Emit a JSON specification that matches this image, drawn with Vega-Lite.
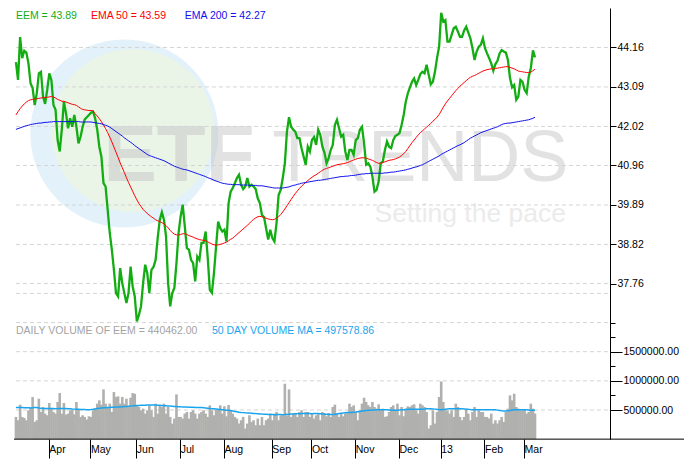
{
"$schema": "https://vega.github.io/schema/vega-lite/v6.json",
"width": 670,
"height": 431,
"padding": {"left": 11, "top": 8, "right": 5, "bottom": 5},
"background": "#ffffff",
"config": {"view": {"stroke": null}, "font": "Liberation Sans", "axis": {"labelFont": "Liberation Sans", "labelFontSize": 10.5, "labelColor": "#000000", "domainColor": "#000000", "tickColor": "#000000", "title": null}},
"data": {"name": "eem"},
"datasets": {"eem": [
{"d":"2012-03-09","c":43.76,"a":42.33,"b":41.94,"v":381100,"m":541000},
{"d":"2012-03-12","c":43.28,"a":42.42,"b":41.96,"v":324200,"m":541000},
{"d":"2012-03-13","c":44.44,"a":42.50,"b":41.98,"v":591600,"m":542000},
{"d":"2012-03-14","c":43.87,"a":42.57,"b":42.00,"v":381100,"m":541000},
{"d":"2012-03-15","c":44.07,"a":42.63,"b":42.02,"v":364000,"m":540000},
{"d":"2012-03-16","c":44.02,"a":42.68,"b":42.04,"v":324200,"m":540000},
{"d":"2012-03-19","c":43.73,"a":42.72,"b":42.05,"v":494900,"m":538000},
{"d":"2012-03-20","c":43.19,"a":42.74,"b":42.07,"v":551700,"m":536000},
{"d":"2012-03-21","c":43.06,"a":42.75,"b":42.08,"v":722400,"m":538000},
{"d":"2012-03-22","c":42.60,"a":42.76,"b":42.09,"v":295800,"m":541000},
{"d":"2012-03-23","c":42.92,"a":42.77,"b":42.10,"v":324200,"m":541000},
{"d":"2012-03-26","c":43.46,"a":42.78,"b":42.11,"v":693900,"m":535000},
{"d":"2012-03-27","c":43.50,"a":42.79,"b":42.11,"v":466400,"m":528000},
{"d":"2012-03-28","c":42.83,"a":42.80,"b":42.12,"v":551700,"m":524000},
{"d":"2012-03-29","c":42.63,"a":42.80,"b":42.13,"v":438000,"m":524000},
{"d":"2012-03-30","c":43.01,"a":42.81,"b":42.13,"v":409500,"m":524000},
{"d":"2012-04-02","c":43.46,"a":42.82,"b":42.14,"v":620000,"m":525000},
{"d":"2012-04-03","c":43.28,"a":42.83,"b":42.14,"v":523300,"m":524000},
{"d":"2012-04-04","c":42.60,"a":42.82,"b":42.15,"v":466400,"m":524000},
{"d":"2012-04-05","c":42.47,"a":42.79,"b":42.15,"v":438000,"m":523000},
{"d":"2012-04-09","c":41.65,"a":42.75,"b":42.15,"v":637100,"m":524000},
{"d":"2012-04-10","c":41.34,"a":42.73,"b":42.15,"v":790600,"m":526000},
{"d":"2012-04-11","c":41.93,"a":42.70,"b":42.15,"v":438000,"m":525000},
{"d":"2012-04-12","c":42.69,"a":42.70,"b":42.15,"v":620000,"m":524000},
{"d":"2012-04-13","c":42.38,"a":42.68,"b":42.15,"v":420900,"m":524000},
{"d":"2012-04-16","c":41.97,"a":42.66,"b":42.15,"v":438000,"m":523000},
{"d":"2012-04-17","c":42.24,"a":42.64,"b":42.15,"v":494900,"m":522000},
{"d":"2012-04-18","c":42.01,"a":42.62,"b":42.15,"v":506200,"m":518000},
{"d":"2012-04-19","c":42.33,"a":42.61,"b":42.15,"v":426600,"m":515000},
{"d":"2012-04-20","c":42.01,"a":42.59,"b":42.15,"v":637100,"m":512000},
{"d":"2012-04-23","c":41.56,"a":42.55,"b":42.15,"v":506200,"m":511000},
{"d":"2012-04-24","c":41.74,"a":42.51,"b":42.14,"v":381100,"m":510000},
{"d":"2012-04-25","c":42.01,"a":42.48,"b":42.14,"v":409500,"m":508000},
{"d":"2012-04-26","c":42.21,"a":42.47,"b":42.14,"v":381100,"m":507000},
{"d":"2012-04-27","c":42.27,"a":42.46,"b":42.14,"v":335600,"m":506000},
{"d":"2012-04-30","c":42.33,"a":42.45,"b":42.14,"v":392500,"m":506000},
{"d":"2012-05-01","c":42.39,"a":42.45,"b":42.14,"v":381100,"m":508000},
{"d":"2012-05-02","c":42.42,"a":42.44,"b":42.13,"v":494900,"m":512000},
{"d":"2012-05-03","c":42.24,"a":42.36,"b":42.12,"v":523300,"m":518000},
{"d":"2012-05-04","c":41.93,"a":42.30,"b":42.11,"v":608600,"m":524000},
{"d":"2012-05-07","c":41.47,"a":42.23,"b":42.10,"v":665500,"m":530000},
{"d":"2012-05-08","c":41.20,"a":42.15,"b":42.09,"v":591600,"m":535000},
{"d":"2012-05-09","c":40.48,"a":42.06,"b":42.07,"v":853200,"m":538000},
{"d":"2012-05-10","c":40.39,"a":41.96,"b":42.05,"v":608600,"m":540000},
{"d":"2012-05-11","c":39.76,"a":41.85,"b":42.03,"v":551700,"m":542000},
{"d":"2012-05-14","c":39.13,"a":41.73,"b":42.00,"v":608600,"m":544000},
{"d":"2012-05-15","c":38.68,"a":41.60,"b":41.96,"v":466400,"m":546000},
{"d":"2012-05-16","c":38.13,"a":41.46,"b":41.92,"v":807700,"m":548000},
{"d":"2012-05-17","c":37.50,"a":41.32,"b":41.88,"v":722400,"m":550000},
{"d":"2012-05-18","c":37.41,"a":41.18,"b":41.84,"v":733800,"m":552000},
{"d":"2012-05-21","c":38.18,"a":41.03,"b":41.80,"v":608600,"m":553000},
{"d":"2012-05-22","c":37.77,"a":40.90,"b":41.76,"v":722400,"m":556000},
{"d":"2012-05-23","c":37.50,"a":40.77,"b":41.71,"v":608600,"m":559000},
{"d":"2012-05-24","c":37.23,"a":40.63,"b":41.67,"v":693900,"m":562000},
{"d":"2012-05-25","c":37.50,"a":40.50,"b":41.63,"v":551700,"m":565000},
{"d":"2012-05-29","c":38.22,"a":40.38,"b":41.59,"v":711000,"m":568000},
{"d":"2012-05-30","c":37.68,"a":40.26,"b":41.55,"v":790600,"m":571000},
{"d":"2012-05-31","c":37.41,"a":40.14,"b":41.50,"v":779300,"m":575000},
{"d":"2012-06-01","c":36.73,"a":40.03,"b":41.46,"v":580200,"m":577000},
{"d":"2012-06-04","c":36.91,"a":39.93,"b":41.42,"v":551700,"m":578000},
{"d":"2012-06-05","c":37.14,"a":39.85,"b":41.38,"v":494900,"m":580000},
{"d":"2012-06-06","c":37.77,"a":39.77,"b":41.34,"v":523300,"m":581000},
{"d":"2012-06-07","c":38.27,"a":39.71,"b":41.30,"v":438000,"m":582000},
{"d":"2012-06-08","c":38.04,"a":39.66,"b":41.26,"v":494900,"m":584000},
{"d":"2012-06-11","c":37.50,"a":39.61,"b":41.23,"v":580200,"m":585000},
{"d":"2012-06-12","c":38.13,"a":39.57,"b":41.21,"v":494900,"m":586000},
{"d":"2012-06-13","c":38.21,"a":39.53,"b":41.19,"v":381100,"m":586000},
{"d":"2012-06-14","c":38.40,"a":39.49,"b":41.17,"v":608600,"m":585000},
{"d":"2012-06-15","c":38.99,"a":39.46,"b":41.15,"v":438000,"m":583000},
{"d":"2012-06-18","c":39.49,"a":39.44,"b":41.13,"v":580200,"m":581000},
{"d":"2012-06-19","c":39.69,"a":39.41,"b":41.11,"v":551700,"m":578000},
{"d":"2012-06-20","c":39.49,"a":39.38,"b":41.09,"v":608600,"m":575000},
{"d":"2012-06-21","c":39.04,"a":39.33,"b":41.06,"v":438000,"m":572000},
{"d":"2012-06-22","c":37.77,"a":39.27,"b":41.03,"v":551700,"m":569000},
{"d":"2012-06-25","c":37.14,"a":39.20,"b":41.00,"v":381100,"m":567000},
{"d":"2012-06-26","c":37.50,"a":39.14,"b":40.97,"v":267300,"m":565000},
{"d":"2012-06-27","c":37.64,"a":39.10,"b":40.94,"v":352700,"m":562000},
{"d":"2012-06-28","c":38.31,"a":39.08,"b":40.92,"v":767900,"m":560000},
{"d":"2012-06-29","c":39.13,"a":39.08,"b":40.90,"v":381100,"m":557000},
{"d":"2012-07-02","c":39.58,"a":39.09,"b":40.88,"v":381100,"m":554000},
{"d":"2012-07-03","c":39.90,"a":39.11,"b":40.86,"v":352700,"m":552000},
{"d":"2012-07-05","c":39.31,"a":39.11,"b":40.85,"v":438000,"m":551000},
{"d":"2012-07-06","c":38.72,"a":39.09,"b":40.84,"v":466400,"m":550000},
{"d":"2012-07-09","c":38.68,"a":39.06,"b":40.82,"v":352700,"m":548000},
{"d":"2012-07-10","c":38.40,"a":39.04,"b":40.80,"v":466400,"m":547000},
{"d":"2012-07-11","c":38.31,"a":39.02,"b":40.78,"v":494900,"m":546000},
{"d":"2012-07-12","c":37.82,"a":38.99,"b":40.76,"v":438000,"m":545000},
{"d":"2012-07-13","c":38.49,"a":38.97,"b":40.74,"v":352700,"m":543000},
{"d":"2012-07-16","c":38.40,"a":38.95,"b":40.72,"v":438000,"m":542000},
{"d":"2012-07-17","c":38.86,"a":38.94,"b":40.70,"v":466400,"m":541000},
{"d":"2012-07-18","c":38.86,"a":38.93,"b":40.68,"v":494900,"m":538000},
{"d":"2012-07-19","c":39.17,"a":38.92,"b":40.66,"v":438000,"m":534000},
{"d":"2012-07-20","c":38.46,"a":38.89,"b":40.63,"v":381100,"m":530000},
{"d":"2012-07-23","c":37.59,"a":38.86,"b":40.61,"v":580200,"m":526000},
{"d":"2012-07-24","c":37.51,"a":38.83,"b":40.59,"v":494900,"m":522000},
{"d":"2012-07-25","c":38.05,"a":38.81,"b":40.56,"v":409500,"m":520000},
{"d":"2012-07-26","c":38.76,"a":38.80,"b":40.54,"v":506200,"m":518000},
{"d":"2012-07-27","c":39.44,"a":38.81,"b":40.52,"v":506200,"m":514000},
{"d":"2012-07-30","c":39.26,"a":38.82,"b":40.50,"v":580200,"m":510000},
{"d":"2012-07-31","c":39.17,"a":38.84,"b":40.48,"v":438000,"m":505000},
{"d":"2012-08-01","c":39.22,"a":38.86,"b":40.47,"v":563100,"m":500000},
{"d":"2012-08-02","c":38.90,"a":38.88,"b":40.46,"v":392500,"m":497000},
{"d":"2012-08-03","c":39.94,"a":38.92,"b":40.45,"v":585900,"m":495000},
{"d":"2012-08-06","c":40.25,"a":38.96,"b":40.45,"v":494900,"m":490000},
{"d":"2012-08-07","c":40.35,"a":38.99,"b":40.44,"v":438000,"m":483000},
{"d":"2012-08-08","c":40.48,"a":39.04,"b":40.44,"v":381100,"m":476000},
{"d":"2012-08-09","c":40.62,"a":39.09,"b":40.44,"v":352700,"m":469000},
{"d":"2012-08-10","c":40.71,"a":39.14,"b":40.44,"v":267300,"m":462000},
{"d":"2012-08-13","c":40.44,"a":39.19,"b":40.43,"v":324200,"m":457000},
{"d":"2012-08-14","c":40.32,"a":39.24,"b":40.43,"v":381100,"m":455000},
{"d":"2012-08-15","c":40.39,"a":39.29,"b":40.43,"v":182000,"m":452000},
{"d":"2012-08-16","c":40.62,"a":39.34,"b":40.43,"v":267300,"m":450000},
{"d":"2012-08-17","c":40.39,"a":39.39,"b":40.42,"v":409500,"m":447000},
{"d":"2012-08-20","c":40.44,"a":39.45,"b":40.42,"v":295800,"m":444000},
{"d":"2012-08-21","c":40.39,"a":39.50,"b":40.42,"v":324200,"m":441000},
{"d":"2012-08-22","c":40.32,"a":39.54,"b":40.42,"v":238900,"m":438000},
{"d":"2012-08-23","c":40.07,"a":39.57,"b":40.41,"v":352700,"m":436000},
{"d":"2012-08-24","c":39.94,"a":39.58,"b":40.41,"v":238900,"m":433000},
{"d":"2012-08-27","c":39.62,"a":39.57,"b":40.41,"v":381100,"m":430000},
{"d":"2012-08-28","c":39.56,"a":39.55,"b":40.40,"v":238900,"m":428000},
{"d":"2012-08-29","c":39.26,"a":39.53,"b":40.39,"v":324200,"m":425000},
{"d":"2012-08-30","c":38.95,"a":39.51,"b":40.38,"v":352700,"m":422000},
{"d":"2012-08-31","c":39.22,"a":39.50,"b":40.37,"v":438000,"m":421000},
{"d":"2012-09-04","c":38.99,"a":39.49,"b":40.36,"v":324200,"m":421000},
{"d":"2012-09-05","c":38.90,"a":39.50,"b":40.35,"v":438000,"m":420000},
{"d":"2012-09-06","c":39.40,"a":39.53,"b":40.35,"v":466400,"m":420000},
{"d":"2012-09-07","c":40.16,"a":39.57,"b":40.35,"v":324200,"m":421000},
{"d":"2012-09-10","c":40.30,"a":39.63,"b":40.35,"v":409500,"m":421000},
{"d":"2012-09-11","c":40.62,"a":39.70,"b":40.35,"v":409500,"m":420000},
{"d":"2012-09-12","c":41.02,"a":39.78,"b":40.36,"v":949900,"m":422000},
{"d":"2012-09-13","c":41.88,"a":39.87,"b":40.37,"v":409500,"m":425000},
{"d":"2012-09-14","c":42.27,"a":39.95,"b":40.38,"v":853200,"m":429000},
{"d":"2012-09-17","c":42.01,"a":40.04,"b":40.40,"v":381100,"m":431000},
{"d":"2012-09-18","c":41.93,"a":40.12,"b":40.42,"v":438000,"m":433000},
{"d":"2012-09-19","c":41.88,"a":40.20,"b":40.43,"v":449400,"m":435000},
{"d":"2012-09-20","c":41.70,"a":40.27,"b":40.45,"v":381100,"m":436000},
{"d":"2012-09-21","c":41.70,"a":40.34,"b":40.46,"v":466400,"m":437000},
{"d":"2012-09-24","c":41.43,"a":40.40,"b":40.48,"v":494900,"m":438000},
{"d":"2012-09-25","c":41.20,"a":40.45,"b":40.49,"v":381100,"m":438000},
{"d":"2012-09-26","c":40.98,"a":40.50,"b":40.50,"v":466400,"m":439000},
{"d":"2012-09-27","c":41.47,"a":40.55,"b":40.51,"v":466400,"m":438000},
{"d":"2012-09-28","c":41.34,"a":40.60,"b":40.52,"v":381100,"m":438000},
{"d":"2012-10-01","c":41.65,"a":40.64,"b":40.53,"v":438000,"m":437000},
{"d":"2012-10-02","c":41.73,"a":40.68,"b":40.54,"v":352700,"m":438000},
{"d":"2012-10-03","c":41.52,"a":40.71,"b":40.55,"v":409500,"m":439000},
{"d":"2012-10-04","c":41.93,"a":40.75,"b":40.56,"v":438000,"m":438000},
{"d":"2012-10-05","c":41.79,"a":40.79,"b":40.56,"v":324200,"m":437000},
{"d":"2012-10-08","c":41.47,"a":40.83,"b":40.57,"v":466400,"m":433000},
{"d":"2012-10-09","c":41.31,"a":40.86,"b":40.58,"v":449400,"m":429000},
{"d":"2012-10-10","c":41.02,"a":40.88,"b":40.59,"v":392500,"m":425000},
{"d":"2012-10-11","c":41.16,"a":40.90,"b":40.60,"v":449400,"m":422000},
{"d":"2012-10-12","c":41.38,"a":40.92,"b":40.61,"v":381100,"m":421000},
{"d":"2012-10-15","c":41.52,"a":40.94,"b":40.62,"v":551700,"m":421000},
{"d":"2012-10-16","c":42.06,"a":40.96,"b":40.63,"v":591600,"m":426000},
{"d":"2012-10-17","c":42.20,"a":40.98,"b":40.64,"v":438000,"m":433000},
{"d":"2012-10-18","c":41.97,"a":40.99,"b":40.65,"v":381100,"m":440000},
{"d":"2012-10-19","c":41.74,"a":41.00,"b":40.66,"v":438000,"m":446000},
{"d":"2012-10-22","c":41.79,"a":41.01,"b":40.66,"v":392500,"m":449000},
{"d":"2012-10-23","c":41.34,"a":41.02,"b":40.67,"v":438000,"m":452000},
{"d":"2012-10-24","c":41.11,"a":41.04,"b":40.67,"v":466400,"m":455000},
{"d":"2012-10-25","c":41.38,"a":41.06,"b":40.68,"v":608600,"m":456000},
{"d":"2012-10-26","c":41.38,"a":41.09,"b":40.69,"v":551700,"m":458000},
{"d":"2012-10-31","c":41.25,"a":41.11,"b":40.69,"v":580200,"m":462000},
{"d":"2012-11-01","c":41.65,"a":41.13,"b":40.70,"v":466400,"m":466000},
{"d":"2012-11-02","c":41.70,"a":41.15,"b":40.71,"v":324200,"m":471000},
{"d":"2012-11-05","c":41.93,"a":41.16,"b":40.72,"v":494900,"m":476000},
{"d":"2012-11-06","c":42.01,"a":41.17,"b":40.73,"v":608600,"m":481000},
{"d":"2012-11-07","c":41.56,"a":41.17,"b":40.73,"v":711000,"m":486000},
{"d":"2012-11-08","c":40.98,"a":41.16,"b":40.74,"v":637100,"m":490000},
{"d":"2012-11-09","c":41.02,"a":41.14,"b":40.74,"v":580200,"m":494000},
{"d":"2012-11-12","c":40.93,"a":41.12,"b":40.75,"v":551700,"m":497000},
{"d":"2012-11-13","c":40.66,"a":41.10,"b":40.75,"v":637100,"m":500000},
{"d":"2012-11-14","c":40.25,"a":41.07,"b":40.75,"v":551700,"m":502000},
{"d":"2012-11-15","c":40.30,"a":41.04,"b":40.75,"v":523300,"m":504000},
{"d":"2012-11-16","c":40.53,"a":41.02,"b":40.75,"v":597200,"m":505000},
{"d":"2012-11-19","c":41.02,"a":41.02,"b":40.75,"v":506200,"m":506000},
{"d":"2012-11-20","c":41.07,"a":41.04,"b":40.75,"v":523300,"m":506000},
{"d":"2012-11-21","c":41.38,"a":41.06,"b":40.76,"v":381100,"m":505000},
{"d":"2012-11-23","c":41.61,"a":41.08,"b":40.76,"v":392500,"m":503000},
{"d":"2012-11-26","c":41.47,"a":41.10,"b":40.77,"v":466400,"m":500000},
{"d":"2012-11-27","c":41.43,"a":41.11,"b":40.78,"v":551700,"m":497000},
{"d":"2012-11-28","c":41.65,"a":41.12,"b":40.78,"v":580200,"m":495000},
{"d":"2012-11-29","c":41.76,"a":41.14,"b":40.79,"v":494900,"m":495000},
{"d":"2012-11-30","c":41.79,"a":41.16,"b":40.80,"v":608600,"m":497000},
{"d":"2012-12-03","c":41.84,"a":41.19,"b":40.81,"v":409500,"m":500000},
{"d":"2012-12-04","c":42.06,"a":41.23,"b":40.82,"v":551700,"m":503000},
{"d":"2012-12-05","c":42.33,"a":41.28,"b":40.83,"v":392500,"m":506000},
{"d":"2012-12-06","c":42.69,"a":41.34,"b":40.84,"v":523300,"m":509000},
{"d":"2012-12-07","c":42.92,"a":41.42,"b":40.86,"v":563100,"m":512000},
{"d":"2012-12-10","c":43.08,"a":41.50,"b":40.87,"v":551700,"m":512000},
{"d":"2012-12-11","c":43.23,"a":41.58,"b":40.89,"v":580200,"m":512000},
{"d":"2012-12-12","c":43.32,"a":41.65,"b":40.91,"v":597200,"m":512000},
{"d":"2012-12-13","c":43.14,"a":41.72,"b":40.92,"v":494900,"m":512000},
{"d":"2012-12-14","c":43.28,"a":41.79,"b":40.94,"v":438000,"m":512000},
{"d":"2012-12-17","c":43.44,"a":41.85,"b":40.96,"v":608600,"m":512000},
{"d":"2012-12-18","c":43.50,"a":41.90,"b":40.98,"v":580200,"m":513000},
{"d":"2012-12-19","c":43.46,"a":41.95,"b":41.01,"v":551700,"m":516000},
{"d":"2012-12-20","c":43.69,"a":42.00,"b":41.04,"v":466400,"m":520000},
{"d":"2012-12-21","c":43.42,"a":42.05,"b":41.07,"v":182000,"m":523000},
{"d":"2012-12-24","c":43.16,"a":42.10,"b":41.10,"v":238900,"m":522000},
{"d":"2012-12-26","c":43.23,"a":42.16,"b":41.13,"v":494900,"m":519000},
{"d":"2012-12-27","c":43.50,"a":42.21,"b":41.16,"v":267300,"m":515000},
{"d":"2012-12-28","c":43.87,"a":42.27,"b":41.19,"v":466400,"m":511000},
{"d":"2012-12-31","c":44.18,"a":42.34,"b":41.22,"v":722400,"m":508000},
{"d":"2013-01-02","c":45.10,"a":42.44,"b":41.26,"v":989700,"m":506000},
{"d":"2013-01-03","c":44.86,"a":42.54,"b":41.29,"v":637100,"m":510000},
{"d":"2013-01-04","c":44.90,"a":42.63,"b":41.32,"v":494900,"m":514000},
{"d":"2013-01-07","c":44.32,"a":42.71,"b":41.35,"v":494900,"m":518000},
{"d":"2013-01-08","c":44.32,"a":42.78,"b":41.38,"v":438000,"m":521000},
{"d":"2013-01-09","c":44.50,"a":42.85,"b":41.41,"v":494900,"m":523000},
{"d":"2013-01-10","c":44.68,"a":42.92,"b":41.44,"v":381100,"m":523000},
{"d":"2013-01-11","c":44.72,"a":42.99,"b":41.47,"v":608600,"m":523000},
{"d":"2013-01-14","c":44.59,"a":43.05,"b":41.50,"v":551700,"m":523000},
{"d":"2013-01-15","c":44.45,"a":43.11,"b":41.52,"v":381100,"m":523000},
{"d":"2013-01-16","c":44.45,"a":43.16,"b":41.55,"v":324200,"m":522000},
{"d":"2013-01-17","c":44.62,"a":43.21,"b":41.58,"v":381100,"m":519000},
{"d":"2013-01-18","c":44.72,"a":43.26,"b":41.62,"v":523300,"m":515000},
{"d":"2013-01-22","c":44.56,"a":43.31,"b":41.66,"v":438000,"m":511000},
{"d":"2013-01-23","c":44.41,"a":43.35,"b":41.70,"v":324200,"m":508000},
{"d":"2013-01-24","c":44.14,"a":43.38,"b":41.73,"v":466400,"m":506000},
{"d":"2013-01-25","c":43.82,"a":43.40,"b":41.76,"v":551700,"m":506000},
{"d":"2013-01-28","c":44.05,"a":43.43,"b":41.79,"v":381100,"m":506000},
{"d":"2013-01-29","c":44.18,"a":43.46,"b":41.82,"v":494900,"m":506000},
{"d":"2013-01-30","c":44.23,"a":43.49,"b":41.85,"v":466400,"m":506000},
{"d":"2013-01-31","c":44.41,"a":43.52,"b":41.87,"v":466400,"m":506000},
{"d":"2013-02-01","c":44.14,"a":43.54,"b":41.89,"v":381100,"m":506000},
{"d":"2013-02-04","c":44.00,"a":43.56,"b":41.91,"v":381100,"m":506000},
{"d":"2013-02-05","c":43.87,"a":43.57,"b":41.93,"v":352700,"m":506000},
{"d":"2013-02-06","c":43.73,"a":43.58,"b":41.95,"v":438000,"m":506000},
{"d":"2013-02-07","c":43.53,"a":43.58,"b":41.97,"v":267300,"m":506000},
{"d":"2013-02-08","c":43.71,"a":43.59,"b":41.99,"v":324200,"m":505000},
{"d":"2013-02-11","c":43.80,"a":43.60,"b":42.01,"v":267300,"m":498000},
{"d":"2013-02-12","c":44.00,"a":43.61,"b":42.04,"v":324200,"m":490000},
{"d":"2013-02-13","c":44.09,"a":43.62,"b":42.07,"v":381100,"m":485000},
{"d":"2013-02-14","c":44.05,"a":43.63,"b":42.09,"v":295800,"m":484000},
{"d":"2013-02-15","c":44.02,"a":43.64,"b":42.10,"v":466400,"m":484000},
{"d":"2013-02-19","c":43.82,"a":43.64,"b":42.11,"v":523300,"m":485000},
{"d":"2013-02-20","c":43.33,"a":43.62,"b":42.11,"v":750800,"m":490000},
{"d":"2013-02-21","c":43.08,"a":43.60,"b":42.12,"v":665500,"m":500000},
{"d":"2013-02-22","c":43.14,"a":43.58,"b":42.13,"v":779300,"m":503000},
{"d":"2013-02-25","c":42.74,"a":43.55,"b":42.14,"v":551700,"m":505000},
{"d":"2013-02-26","c":42.83,"a":43.52,"b":42.15,"v":523300,"m":506000},
{"d":"2013-02-27","c":43.28,"a":43.51,"b":42.16,"v":494900,"m":506000},
{"d":"2013-02-28","c":43.23,"a":43.50,"b":42.17,"v":494900,"m":506000},
{"d":"2013-03-01","c":43.01,"a":43.49,"b":42.18,"v":506200,"m":505000},
{"d":"2013-03-04","c":42.92,"a":43.48,"b":42.19,"v":438000,"m":503000},
{"d":"2013-03-05","c":43.37,"a":43.48,"b":42.20,"v":466400,"m":500000},
{"d":"2013-03-06","c":43.60,"a":43.49,"b":42.22,"v":608600,"m":497000},
{"d":"2013-03-07","c":44.08,"a":43.53,"b":42.24,"v":523300,"m":496000},
{"d":"2013-03-08","c":43.89,"a":43.57,"b":42.27,"v":440462,"m":497578.86}
]},
"layer": [
{
"layer": [
{"data": {"values": [{}]}, "mark": {"type": "rule", "color": "#d4d4d4", "strokeDash": [4, 3]},
 "encoding": {"x": {"datum": "2012-03-09", "type": "ordinal"}, "x2": {"datum": "2013-04-30"}, "y": {"datum": 500000, "type": "quantitative"}}},
{"data": {"values": [{}]}, "mark": {"type": "rule", "color": "#d4d4d4", "strokeDash": [4, 3]},
 "encoding": {"x": {"datum": "2012-03-09", "type": "ordinal"}, "x2": {"datum": "2013-04-30"}, "y": {"datum": 1000000, "type": "quantitative"}}},
{"data": {"values": [{}]}, "mark": {"type": "rule", "color": "#d4d4d4", "strokeDash": [4, 3]},
 "encoding": {"x": {"datum": "2012-03-09", "type": "ordinal"}, "x2": {"datum": "2013-04-30"}, "y": {"datum": 1500000, "type": "quantitative"}}},
{"data": {"values": [{}]}, "mark": {"type": "rule", "color": "#d4d4d4", "strokeDash": [4, 3]},
 "encoding": {"x": {"datum": "2012-03-09", "type": "ordinal"}, "x2": {"datum": "2013-04-30"}, "y": {"datum": 2000000, "type": "quantitative"}}},
{"data": {"values": [{}]}, "mark": {"type": "rule", "color": "#d4d4d4", "strokeDash": [4, 3]},
 "encoding": {"x": {"datum": "2012-03-09", "type": "ordinal"}, "x2": {"datum": "2013-04-30"}, "y": {"datum": 2500000, "type": "quantitative"}}},
{"mark": {"type": "bar", "color": "#b0b1ae", "width": {"band": 1.25}},
 "encoding": {
  "x": {"field": "d", "type": "ordinal",
   "scale": {"type": "band", "domain": {"unionWith": ["2013-03-11","2013-03-12","2013-03-13","2013-03-14","2013-03-15","2013-03-18","2013-03-19","2013-03-20","2013-03-21","2013-03-22","2013-03-25","2013-03-26","2013-03-27","2013-03-28","2013-04-01","2013-04-02","2013-04-03","2013-04-04","2013-04-05","2013-04-08","2013-04-09","2013-04-10","2013-04-11","2013-04-12","2013-04-15","2013-04-16","2013-04-17","2013-04-18","2013-04-19","2013-04-22","2013-04-23","2013-04-24","2013-04-25","2013-04-26","2013-04-29","2013-04-30"]}, "range": [0, 598], "paddingInner": 0, "paddingOuter": 0.431},
   "axis": {"title": null, "values": ["2012-04-02","2012-05-01","2012-06-01","2012-07-02","2012-08-01","2012-09-04","2012-10-01","2012-11-01","2012-12-03","2013-01-02","2013-02-01","2013-03-01"],
    "labelExpr": "datum.value == '2013-01-02' ? '13' : ['Jan','Feb','Mar','Apr','May','Jun','Jul','Aug','Sep','Oct','Nov','Dec'][toNumber(substring(datum.value, 5, 7)) - 1]",
    "tickSize": 19, "bandPosition": 0.5, "domain": false, "grid": false, "labelAngle": 0, "labelAlign": "left", "labelBaseline": "middle", "labelPadding": -9, "labelDx": 3, "labelOverlap": false, "tickColor": "#000000"}},
  "y": {"field": "v", "type": "quantitative", "title": null,
   "scale": {"domain": [0, 2500000], "range": [431.15, 285.4], "nice": false},
   "axis": {"orient": "right", "offset": -74, "title": null,
    "values": [500000, 750000, 1000000, 1250000, 1500000, 1750000, 2000000, 2500000],
    "labelExpr": "(datum.value == 500000 || datum.value == 1000000 || datum.value == 1500000) ? format(datum.value, '.2f') : ''",
    "tickSize": {"condition": {"test": "datum.value == 500000 || datum.value == 1000000 || datum.value == 1500000", "value": 12}, "value": 5},
    "tickOpacity": {"condition": {"test": "datum.value == 2500000", "value": 0}, "value": 1},
    "grid": false, "labelPadding": 1, "labelOverlap": false, "labelFlush": false, "domainColor": "#000000", "tickColor": "#000000"}}}},
{"mark": {"type": "line", "color": "#19a5ee", "strokeWidth": 1.5},
 "encoding": {"x": {"field": "d", "type": "ordinal"}, "y": {"field": "m", "type": "quantitative", "title": null}}},
{"data": {"values": [{}]}, "mark": {"type": "text", "text": "DAILY VOLUME OF EEM = 440462.00", "font": "Liberation Sans", "fontSize": 10.5, "align": "left", "baseline": "alphabetic", "color": "#a3a3a3"},
 "encoding": {"x": {"datum": "2012-03-09", "type": "ordinal"}, "y": {"datum": 1800000, "type": "quantitative"}}},
{"data": {"values": [{}]}, "mark": {"type": "text", "text": "50 DAY VOLUME MA = 497578.86", "font": "Liberation Sans", "fontSize": 10.5, "align": "left", "baseline": "alphabetic", "color": "#19a5ee"},
 "encoding": {"x": {"datum": "2012-07-24", "type": "ordinal"}, "y": {"datum": 1800000, "type": "quantitative"}}},
{"data": {"values": [{}]}, "mark": {"type": "rule", "color": "#000000", "strokeWidth": 1},
 "encoding": {"y": {"datum": 0, "type": "quantitative"}}}
]
},
{
"layer": [
{"data": {"values": [{}]}, "mark": {"type": "point", "shape": "circle", "filled": true, "color": "#c5e3f5", "opacity": 0.5, "size": 35344},
 "encoding": {"x": {"datum": "2012-05-23", "type": "ordinal"}, "y": {"datum": 41.83, "type": "quantitative"}}},
{"data": {"values": [{}]}, "mark": {"type": "point", "shape": "circle", "filled": true, "color": "#f2f9d6", "opacity": 0.5, "size": 26569},
 "encoding": {"x": {"datum": "2012-05-30", "type": "ordinal"}, "y": {"datum": 41.91, "type": "quantitative"}}},
{"data": {"values": [{}]}, "mark": {"type": "text", "text": "ETF", "font": "Liberation Sans", "fontWeight": "bold", "fontSize": 80, "align": "left", "baseline": "alphabetic", "color": "#c6c6c6", "opacity": 0.5},
 "encoding": {"x": {"datum": "2012-05-09", "type": "ordinal"}, "y": {"datum": 40.544, "type": "quantitative"}}},
{"data": {"values": [{}]}, "mark": {"type": "text", "text": "TRENDS", "font": "Liberation Sans", "fontSize": 72, "align": "left", "baseline": "alphabetic", "color": "#c6c6c6", "opacity": 0.5},
 "encoding": {"x": {"datum": "2012-09-04", "type": "ordinal"}, "y": {"datum": 40.544, "type": "quantitative"}}},
{"data": {"values": [{}]}, "mark": {"type": "text", "text": "Setting the pace", "font": "Liberation Sans", "fontSize": 26.5, "align": "left", "baseline": "alphabetic", "color": "#d8d8d8", "opacity": 0.5},
 "encoding": {"x": {"datum": "2012-11-14", "type": "ordinal"}, "y": {"datum": 39.434, "type": "quantitative"}}},
{"data": {"values": [{}]}, "mark": {"type": "rule", "color": "#d4d4d4", "strokeDash": [4, 3]},
 "encoding": {"x": {"datum": "2012-03-09", "type": "ordinal"}, "x2": {"datum": "2013-04-30"}, "y": {"datum": 37.76, "type": "quantitative"}}},
{"data": {"values": [{}]}, "mark": {"type": "rule", "color": "#d4d4d4", "strokeDash": [4, 3]},
 "encoding": {"x": {"datum": "2012-03-09", "type": "ordinal"}, "x2": {"datum": "2013-04-30"}, "y": {"datum": 38.82, "type": "quantitative"}}},
{"data": {"values": [{}]}, "mark": {"type": "rule", "color": "#d4d4d4", "strokeDash": [4, 3]},
 "encoding": {"x": {"datum": "2012-03-09", "type": "ordinal"}, "x2": {"datum": "2013-04-30"}, "y": {"datum": 39.89, "type": "quantitative"}}},
{"data": {"values": [{}]}, "mark": {"type": "rule", "color": "#d4d4d4", "strokeDash": [4, 3]},
 "encoding": {"x": {"datum": "2012-03-09", "type": "ordinal"}, "x2": {"datum": "2013-04-30"}, "y": {"datum": 40.96, "type": "quantitative"}}},
{"data": {"values": [{}]}, "mark": {"type": "rule", "color": "#d4d4d4", "strokeDash": [4, 3]},
 "encoding": {"x": {"datum": "2012-03-09", "type": "ordinal"}, "x2": {"datum": "2013-04-30"}, "y": {"datum": 42.02, "type": "quantitative"}}},
{"data": {"values": [{}]}, "mark": {"type": "rule", "color": "#d4d4d4", "strokeDash": [4, 3]},
 "encoding": {"x": {"datum": "2012-03-09", "type": "ordinal"}, "x2": {"datum": "2013-04-30"}, "y": {"datum": 43.09, "type": "quantitative"}}},
{"data": {"values": [{}]}, "mark": {"type": "rule", "color": "#d4d4d4", "strokeDash": [4, 3]},
 "encoding": {"x": {"datum": "2012-03-09", "type": "ordinal"}, "x2": {"datum": "2013-04-30"}, "y": {"datum": 44.16, "type": "quantitative"}}},
{"mark": {"type": "line", "color": "#13ad13", "strokeWidth": 2.3, "interpolate": "linear"},
 "encoding": {"x": {"field": "d", "type": "ordinal"},
  "y": {"field": "c", "type": "quantitative", "title": null,
   "scale": {"domain": [36.69, 45.23], "range": [315, 0], "nice": false, "zero": false},
   "axis": {"orient": "right", "offset": -74, "title": null,
    "values": [37.76, 38.29, 38.82, 39.355, 39.89, 40.425, 40.96, 41.49, 42.02, 42.555, 43.09, 43.625, 44.16],
    "labelExpr": "indexof([37.76,38.82,39.89,40.96,42.02,43.09,44.16], datum.value) >= 0 ? format(datum.value, '.2f') : ''",
    "tickSize": {"condition": {"test": "indexof([37.76,38.82,39.89,40.96,42.02,43.09,44.16], datum.value) >= 0", "value": 6}, "value": 4},
    "grid": false, "labelPadding": 1, "labelOverlap": false, "labelFlush": false, "domainColor": "#000000", "tickColor": "#000000"}}}},
{"mark": {"type": "line", "color": "#ff0000", "strokeWidth": 1},
 "encoding": {"x": {"field": "d", "type": "ordinal"}, "y": {"field": "a", "type": "quantitative", "title": null}}},
{"mark": {"type": "line", "color": "#1010ee", "strokeWidth": 1},
 "encoding": {"x": {"field": "d", "type": "ordinal"}, "y": {"field": "b", "type": "quantitative", "title": null}}},
{"data": {"values": [{}]}, "mark": {"type": "text", "text": "EEM = 43.89", "font": "Liberation Sans", "fontSize": 10.5, "align": "left", "baseline": "alphabetic", "color": "#13ad13"},
 "encoding": {"x": {"datum": "2012-03-09", "type": "ordinal"}, "y": {"datum": 44.932, "type": "quantitative"}}},
{"data": {"values": [{}]}, "mark": {"type": "text", "text": "EMA 50 = 43.59", "font": "Liberation Sans", "fontSize": 10.5, "align": "left", "baseline": "alphabetic", "color": "#ff0000"},
 "encoding": {"x": {"datum": "2012-05-01", "type": "ordinal"}, "y": {"datum": 44.932, "type": "quantitative"}}},
{"data": {"values": [{}]}, "mark": {"type": "text", "text": "EMA 200 = 42.27", "font": "Liberation Sans", "fontSize": 10.5, "align": "left", "baseline": "alphabetic", "color": "#1010ee"},
 "encoding": {"x": {"datum": "2012-07-05", "type": "ordinal"}, "y": {"datum": 44.932, "type": "quantitative"}}}
]
}
],
"resolve": {"scale": {"y": "independent"}, "axis": {"y": "independent"}}
}
